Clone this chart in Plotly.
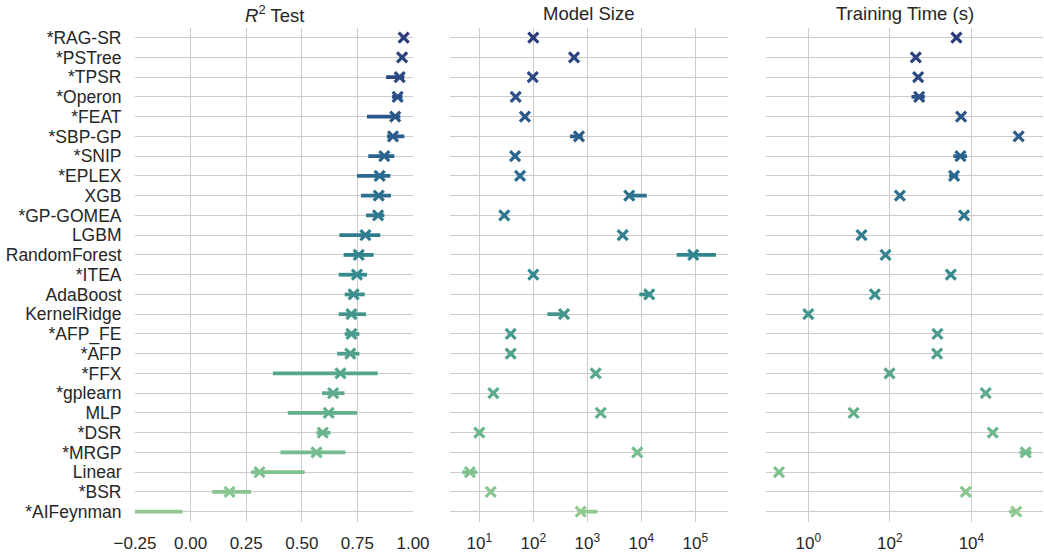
import plotly.graph_objects as go

methods = ["*RAG-SR", "*PSTree", "*TPSR", "*Operon", "*FEAT", "*SBP-GP", "*SNIP", "*EPLEX", "XGB",
           "*GP-GOMEA", "LGBM", "RandomForest", "*ITEA", "AdaBoost", "KernelRidge", "*AFP_FE", "*AFP",
           "*FFX", "*gplearn", "MLP", "*DSR", "*MRGP", "Linear", "*BSR", "*AIFeynman"]

r2_mean = [0.958, 0.951, 0.940, 0.931, 0.920, 0.910, 0.871, 0.850, 0.846, 0.843, 0.786, 0.756, 0.748,
           0.733, 0.723, 0.723, 0.718, 0.674, 0.641, 0.621, 0.594, 0.566, 0.310, 0.175, -0.45]
r2_lo = [0.950, 0.944, 0.879, 0.906, 0.793, 0.883, 0.799, 0.748, 0.766, 0.789, 0.669, 0.688, 0.666,
         0.693, 0.666, 0.693, 0.659, 0.370, 0.591, 0.437, 0.566, 0.404, 0.272, 0.097, -0.90]
r2_hi = [0.966, 0.958, 0.961, 0.953, 0.943, 0.961, 0.916, 0.898, 0.901, 0.871, 0.853, 0.823, 0.793,
         0.783, 0.789, 0.759, 0.759, 0.841, 0.692, 0.748, 0.629, 0.696, 0.513, 0.272, -0.036]

size_mean = [100, 568, 97.5, 47.2, 70, 701, 46, 56.8, 5990, 29, 4520, 91800, 100, 14060, 371, 38.1, 38.1,
             1430, 18.2, 1770, 10, 8430, 6.7, 16.3, 753]
size_lo = [96, 545, 92, 45, 66, 479, 44, 54, 5600, 28, 4200, 45200, 96, 9180, 182, 36.5, 36.5,
           1330, 17.2, 1650, 9.6, 8000, 4.8, 15.6, 680]
size_hi = [104, 592, 104, 49.5, 74, 820, 48.5, 59.5, 12600, 30.5, 4900, 241000, 104, 15200, 420, 39.8, 39.8,
           1560, 19.5, 1950, 10.5, 8900, 9.2, 17, 1530]

time_mean = [4290, 433, 494, 523, 5580, 144000, 5380, 3760, 176, 6610, 20.2, 78.3, 3120, 42.9, 1.0, 1470,
             1440, 98, 22400, 12.9, 33300, 214000, 0.191, 7260, 126000]
time_lo = [4000, 410, 460, 340, 5200, 134000, 3600, 2840, 165, 6200, 19, 74, 2900, 40.5, 0.95, 1380,
           1350, 92, 21000, 12.2, 31000, 151000, 0.18, 6800, 83600]
time_hi = [4600, 455, 530, 720, 6000, 154000, 7800, 4710, 188, 7100, 21.5, 83, 3350, 45.5, 1.05, 1560,
           1530, 104, 24000, 13.6, 35500, 295000, 0.2, 7700, 138000]

panel_titles = ["<i>R</i><sup>2</sup> Test", "Model Size", "Training Time (s)"]
r2_ticks = [-0.25, 0, 0.25, 0.5, 0.75, 1.0]
size_ticks = [10, 100, 1000, 10000, 100000]
size_ticktext = ["10<sup>1</sup>", "10<sup>2</sup>", "10<sup>3</sup>", "10<sup>4</sup>", "10<sup>5</sup>"]
time_ticks = [1, 100, 10000]
time_ticktext = ["10<sup>0</sup>", "10<sup>2</sup>", "10<sup>4</sup>"]

# palette stops (crest-like, dark blue -> light green)
stops = [(0.0, (43, 60, 125)), (0.25, (41, 100, 143)), (0.5, (52, 138, 141)),
         (0.83, (104, 182, 139)), (0.917, (128, 193, 144)), (1.0, (146, 201, 145))]


def pal(t):
    for (t0, c0), (t1, c1) in zip(stops[:-1], stops[1:]):
        if t <= t1:
            f = (t - t0) / (t1 - t0)
            c = [round(a + (b - a) * f) for a, b in zip(c0, c1)]
            return "rgb(%d,%d,%d)" % tuple(c)
    return "rgb(%d,%d,%d)" % stops[-1][1]


n = len(methods)
colors = [pal(i / (n - 1)) for i in range(n)]

W, H = 1044, 556
FONT = "Liberation Sans, Arial, sans-serif"
TXT = "#262626"
GRID = "#cccccc"

fig = go.Figure()
panels = [(r2_mean, r2_lo, r2_hi), (size_mean, size_lo, size_hi), (time_mean, time_lo, time_hi)]
axes = [("x", "y"), ("x2", "y2"), ("x3", "y3")]
for (mean, lo, hi), (xa, ya) in zip(panels, axes):
    for i in range(n):
        fig.add_trace(go.Scatter(
            x=[mean[i]], y=[methods[i]], xaxis=xa, yaxis=ya, mode="markers",
            marker=dict(symbol="x-thin", size=10, color=colors[i],
                        line=dict(width=3.2, color=colors[i])),
            error_x=dict(type="data", symmetric=False, array=[hi[i] - mean[i]],
                         arrayminus=[mean[i] - lo[i]], thickness=3.8, width=0, color=colors[i]),
            showlegend=False, hoverinfo="skip"))

px_dom = [(135, 413), (450, 728), (766, 1043)]
doms = [[a / W, b / W] for a, b in px_dom]
ydom = [1 - 521.6 / H, 1 - 27.8 / H]

xcommon = dict(showgrid=True, gridcolor=GRID, gridwidth=1, zeroline=False, showline=False,
               ticks="outside", ticklen=6, tickcolor="rgba(0,0,0,0)", automargin=False,
               tickfont=dict(family=FONT, size=17, color=TXT))
ycommon = dict(type="category", categoryorder="array", categoryarray=methods,
               tickmode="linear", tick0=0, dtick=1, automargin=False,
               range=[n - 0.5, -0.5], showgrid=True, gridcolor=GRID, gridwidth=1.2,
               zeroline=False, showline=False, domain=ydom)

fig.update_layout(
    width=W, height=H, autosize=False, margin=dict(l=0, r=0, t=0, b=0, pad=0),
    paper_bgcolor="white", plot_bgcolor="white",
    xaxis=dict(domain=doms[0], range=[-0.25, 1.0], tickmode="array", tickvals=r2_ticks,
               tickformat=".2f", anchor="y", **xcommon),
    xaxis2=dict(domain=doms[1], type="log", range=[0.457, 5.606], tickmode="array", tickvals=size_ticks,
                ticktext=size_ticktext, anchor="y2", **xcommon),
    xaxis3=dict(domain=doms[2], type="log", range=[-1.037, 5.755], tickmode="array", tickvals=time_ticks,
                ticktext=time_ticktext, anchor="y3", **xcommon),
    yaxis=dict(anchor="x", ticks="outside", ticklen=9, tickcolor="rgba(0,0,0,0)",
               tickfont=dict(family=FONT, size=17.5, color=TXT), **ycommon),
    yaxis2=dict(anchor="x2", showticklabels=False, **ycommon),
    yaxis3=dict(anchor="x3", showticklabels=False, **ycommon),
)

for title, (a, b) in zip(panel_titles, px_dom):
    fig.add_annotation(text=title, x=(a + b) / 2 / W, y=1 - 14 / H, xref="paper", yref="paper",
                       xanchor="center", yanchor="middle", showarrow=False,
                       font=dict(family=FONT, size=18.5, color=TXT))

fig.write_html("out.html", config={"displayModeBar": False},
               post_script="document.body.style.margin='0';document.body.style.overflow='hidden';")
